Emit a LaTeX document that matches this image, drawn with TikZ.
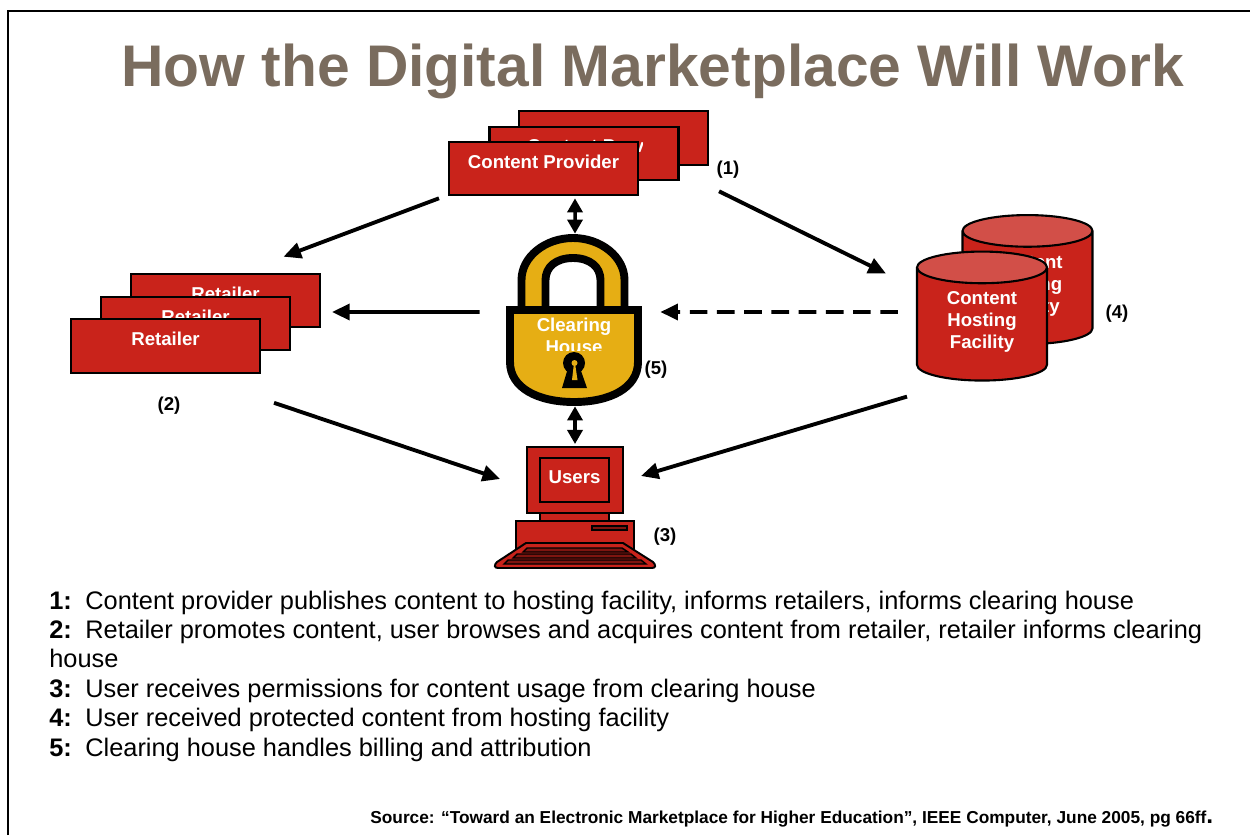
\documentclass[tikz,border=0pt]{standalone}
\usepackage{fontspec}
\setmainfont{Liberation Sans}
\usetikzlibrary{arrows.meta,shapes.geometric}
\definecolor{boxred}{HTML}{C9231B}
\definecolor{endred}{HTML}{D24F48}
\definecolor{keyred}{HTML}{7E1510}
\definecolor{lockgold}{HTML}{E6AE14}
\definecolor{titlebrown}{HTML}{7A6C5E}
\newcommand{\boxfont}{\fontsize{10.6pt}{12.5pt}\selectfont\bfseries}
\newcommand{\hostlabel}{Content\\Hosting\\Facility\rule[-5pt]{0pt}{0pt}}
\tikzset{
  redbox/.style={draw=black, line width=1.2pt, fill=boxred, text=white, font=\boxfont, inner sep=0pt,
    minimum width=3.78cm, minimum height=1.07cm, text height=7.6pt, text depth=7.8pt},
  hosting/.style={cylinder, shape border rotate=90, aspect=0.45, draw=black, line width=1.2pt,
    cylinder uses custom fill, cylinder body fill=boxred, cylinder end fill=endred,
    minimum width=2.6cm, minimum height=2.58cm, inner sep=0pt, text=white, font=\boxfont, align=center},
  pcpart/.style={draw=black, line width=1.1pt, fill=boxred},
  keyrow/.style={draw=black, line width=0.8pt, fill=keyred},
  lockpart/.style={draw=black, line width=4.5pt, fill=lockgold},
  flow/.style={line width=2.2pt, -{Triangle[length=10pt,width=9pt]}},
  both/.style={line width=2pt, {Triangle[length=8pt,width=8.5pt]}-{Triangle[length=8pt,width=8.5pt]}},
  tag/.style={font=\boxfont, inner sep=0pt},
  bodyline/.style={anchor=base west, inner sep=0pt, font=\fontsize{14.44pt}{17pt}\selectfont}
}
\begin{document}
\begin{tikzpicture}[x=0.02cm, y=-0.02cm]
   \useasboundingbox (0,0) rectangle (1250,835);
   \draw[line width=1.4pt] (8,835) -- (8,11) -- (1250,11);

   \node[font=\fontsize{33.43pt}{36pt}\selectfont\bfseries, text=titlebrown, inner sep=0pt] (title) at (652.5,71) {How the Digital Marketplace Will Work};

   % content provider stack
   \foreach \n/\x/\y in {provC/613.5/138, provB/584/153.5}
     \node[redbox] (\n) at (\x,\y) {};
   \begin{scope}
     \clip (489,126) rectangle (642,180);
     \node[font=\boxfont, text=white, inner sep=0pt, anchor=west] (provBtext) at (527,146) {Content Provider};
   \end{scope}
   \node[redbox] (provider) at (543.5,168.5) {Content Provider};

   % retailer stack
   \foreach \n/\x/\y in {retC/225.5/300.5, retB/195.5/323.5, retailer/165.5/346}
     \node[redbox] (\n) at (\x,\y) {Retailer};

   % hosting facility
   \node[hosting] (hostB) at (1027.5,288) {\hostlabel};
   \node[hosting] (host) at (982,324.5) {\hostlabel};

   % lock
   \node[minimum width=2.72cm, minimum height=3.44cm, inner sep=0pt] (lock) at (574,320) {};
   \draw[lockpart] (521.5,312) -- (521.5,280) .. controls (521.5,257) and (545,238) .. (573,238)
      .. controls (601,238) and (624.5,257) .. (624.5,280) -- (624.5,312) -- (600.5,312) -- (600.5,280)
      .. controls (600.5,267) and (590,258) .. (573,258) .. controls (556,258) and (545.5,267) .. (545.5,280)
      -- (545.5,312) -- cycle;
   \draw[lockpart] (510,310) -- (638,310) -- (638,362) .. controls (638,388) and (610,402) .. (574,402)
      .. controls (538,402) and (510,388) .. (510,362) -- cycle;
   \begin{scope}
     \clip (510,314) rectangle (638,350);
     \node[font=\boxfont, text=white, align=center, inner sep=0pt] (clearing) at (574,336) {Clearing\\House};
   \end{scope}
   \fill (574,363) circle[radius=11];
   \fill (568,368) -- (580,368) -- (587,388) -- (562,388) -- cycle;
   \fill[lockgold] (574.5,363) circle[radius=3];
   \fill[lockgold] (574,363) -- (575,363) -- (577.5,380) -- (572,380) -- cycle;

   % users computer
   \draw[pcpart] (540,513) rectangle (609,521);
   \draw[pcpart] (516,521) rectangle (634,549);
   \node[pcpart, minimum width=1.92cm, minimum height=1.32cm, inner sep=0pt] (monitor) at (575,480) {};
   \node[draw=black, line width=1.1pt, minimum width=1.38cm, minimum height=0.88cm, inner sep=0pt,
      text=white, font=\boxfont, text height=7.6pt, text depth=3.4pt] (users) at (574.5,480) {Users};
   \draw[keyrow] (592,526) rectangle (627,530);
   \draw[pcpart] (526,543) -- (623,543) -- (653,562) .. controls (656,565) and (656,568) .. (652,568)
      -- (498,568) .. controls (494,568) and (494,565) .. (497,562) -- cycle;
   \draw[keyrow] (527,548) -- (622,548) -- (628,552) -- (523,552) -- cycle;
   \draw[keyrow] (517,554) -- (631,554) -- (636,558) -- (513,558) -- cycle;
   \draw[keyrow] (508,560) -- (641,560) -- (646,564) -- (504,564) -- cycle;

   % connectors
   \draw[flow] ([shift={(-9,2)}]provider.south west) -- ([shift={(58,-16)}]retC.north);
   \draw[flow] ([shift={(80,-5)}]provider.south east) -- ([shift={(-30,-51)}]host.west);
   \draw[flow] ([shift={(-26,-8)}]lock.west) -- ([shift={(11,11.5)}]retC.east);
   \draw[flow, dashed, dash pattern=on 10pt off 5.5pt] ([shift={(-18,-12.5)}]host.west) -- ([shift={(18,-8)}]lock.east);
   \draw[flow] ([shift={(13,29)}]retailer.south east) -- ([shift={(-26,-1)}]monitor.west);
   \draw[flow] ([shift={(-75,15)}]host.south) -- ([shift={(17,-4)}]monitor.east);
   \draw[both] ([shift={(31.5,2)}]provider.south) -- ([xshift=0.02cm]lock.north);
   \draw[both] ([xshift=0.02cm]lock.south) -- ([shift={(0,-2)}]monitor.north);

   % number tags
   \foreach \n/\x/\y/\t in {tagA/728/170/(1), tagB/169/406/(2), tagC/665/537/(3), tagD/1117/314/(4), tagE/656/370/(5)}
     \node[tag] (\n) at (\x,\y) {\t};

   % explanation
   \foreach \n/\y/\t in {1/609/{Content provider publishes content to hosting facility, informs retailers, informs clearing house},
      2/638/{Retailer promotes content, user browses and acquires content from retailer, retailer informs clearing},
      3/697/{User receives permissions for content usage from clearing house},
      4/726/{User received protected content from hosting facility},
      5/756/{Clearing house handles billing and attribution}}
     \node[bodyline] (line\n) at (49,\y) {\makebox[0.72cm][l]{\textbf{\n:}}\t};
   \node[bodyline] (linewrap) at (49,667) {house};

   % source
   \begin{scope}
     \clip (300,800) rectangle (1250,826);
     \node[anchor=base west, inner sep=0pt, font=\fontsize{9.84pt}{11pt}\selectfont\bfseries] (source) at (370,823.5)
       {Source: “Toward an Electronic Marketplace for Higher Education”, IEEE Computer, June 2005, pg 66ff{\fontsize{14pt}{15pt}\selectfont .}};
   \end{scope}
\end{tikzpicture}
\end{document}
